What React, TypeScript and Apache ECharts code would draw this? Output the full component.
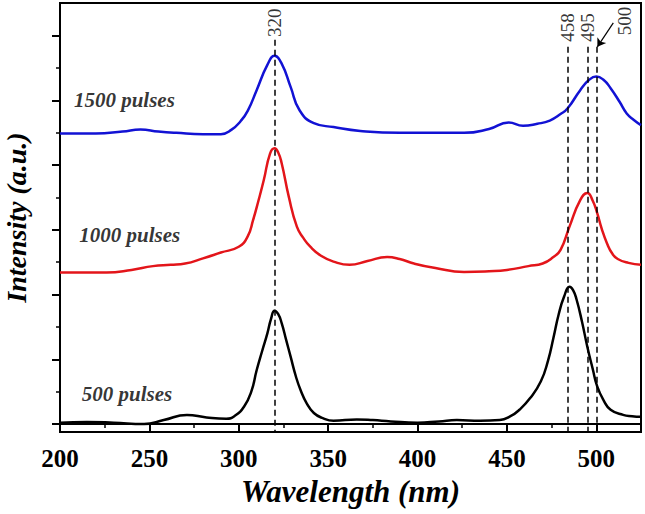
import { useEffect, useRef } from 'react';
import * as echarts from 'echarts';

// [wavelength (nm), intensity (a.u.)]
const pulses1500: [number, number][] = [
  [200, 4.49], [220, 4.49], [235, 4.52], [245, 4.55], [255, 4.52], [265, 4.5],
  [280, 4.48], [290, 4.48], [296, 4.55], [301, 4.68], [305, 4.84], [310, 5.16], [316, 5.55],
  [320, 5.69], [324, 5.57], [329, 5.21], [334, 4.85], [342, 4.65], [353, 4.59],
  [368, 4.53], [390, 4.5], [410, 4.5], [426, 4.5], [440, 4.56], [451, 4.66],
  [459, 4.61], [467, 4.64], [474, 4.69], [480, 4.79], [484, 4.88], [491, 5.16],
  [496, 5.32], [500, 5.37], [504, 5.32], [508, 5.19], [513, 4.98], [517, 4.8],
  [521, 4.7], [525, 4.62],
];

const pulses1000: [number, number][] = [
  [200, 2.34], [226, 2.34], [240, 2.38], [252, 2.44], [262, 2.46], [270, 2.48],
  [280, 2.56], [290, 2.65], [300, 2.74], [305, 2.9], [308, 3.15], [311, 3.45],
  [314, 3.77], [317.5, 4.18], [320, 4.26], [322, 4.2], [324, 4.03], [328, 3.51],
  [332.5, 3.05], [336, 2.88], [340, 2.74], [346, 2.6], [353, 2.51], [362, 2.46],
  [372, 2.52], [383, 2.58], [390, 2.55], [398, 2.48], [410, 2.41], [426, 2.35],
  [440, 2.36], [450, 2.38], [462, 2.44], [470, 2.48], [476, 2.58], [480, 2.69],
  [485, 3.05], [491, 3.46], [495, 3.57], [498, 3.45], [500.5, 3.26], [503, 3.02],
  [506, 2.79], [509, 2.63], [512, 2.55], [518, 2.49], [525, 2.46],
];

const pulses500: [number, number][] = [
  [200, 0.02], [215, 0.03], [230, 0.02], [247, 0.0], [258, 0.06], [271, 0.14],
  [282, 0.1], [293, 0.08], [298, 0.13], [303, 0.27], [307, 0.5], [310, 0.83],
  [313, 1.12], [316, 1.4], [318, 1.62], [320, 1.75], [322, 1.7], [324, 1.56],
  [326.5, 1.3], [329, 1.04], [332, 0.73], [334.5, 0.53], [338, 0.32], [342, 0.17],
  [347, 0.09], [353, 0.05], [366, 0.07], [375, 0.06], [385, 0.04], [400, 0.02],
  [412, 0.04], [422, 0.06], [435, 0.05], [446, 0.06], [452, 0.12], [457, 0.22],
  [463, 0.4], [469, 0.66], [473, 0.98], [476, 1.33], [479, 1.7], [482, 1.97],
  [485, 2.12], [487, 2.07], [489, 1.92], [492, 1.58], [495, 1.19], [498, 0.85],
  [500.5, 0.58], [504, 0.37], [508, 0.22], [515, 0.14], [520, 0.12], [525, 0.11],
];

const xMajorTicks = [200, 250, 300, 350, 400, 450, 500];
const xMinorTicks = [225, 275, 325, 375, 425, 475];
const yMajorTicks = [0, 1, 2, 3, 4, 5, 6];
const yMinorTicks = [0.5, 1.5, 2.5, 3.5, 4.5, 5.5];

// dashed guide lines: [x, top of line]
const guideLines: [number, number][] = [
  [320, 5.94], [484, 5.83], [495, 5.83], [500, 5.83],
];
// peak labels: [text, x, y]
const peakLabels: [string, number, number][] = [
  ['320', 320, 6.2], ['458', 484, 6.13], ['495', 495, 6.13], ['500', 516, 6.23],
];
const seriesLabels: [string, number, number][] = [
  ['1500 pulses', 236, 5.01], ['1000 pulses', 239, 2.92], ['500 pulses', 237.5, 0.47],
];

const SERIF = "'Liberation Serif', 'DejaVu Serif', 'Times New Roman', Times, serif";
const Y_MIN = -0.124;
const Y_MAX = 6.507;

export default function App() {
  const ref = useRef<HTMLDivElement>(null);

  useEffect(() => {
    if (!ref.current) return;
    const chart = echarts.init(ref.current, null, { renderer: 'svg' });

    const yBase = {
      type: 'value' as const,
      min: Y_MIN,
      max: Y_MAX,
      position: 'left' as const,
      offset: 0,
      splitLine: { show: false },
      axisLabel: { show: false },
    };

    const line = (name: string, data: [number, number][], color: string) => ({
      name,
      type: 'line' as const,
      data,
      showSymbol: false,
      smooth: 0.5,
      lineStyle: { color, width: 2.5 },
      silent: true,
      z: 3,
    });

    chart.setOption({
      animation: false,
      textStyle: { fontFamily: SERIF },
      grid: {
        left: 60,
        right: 4,
        top: 3,
        bottom: 82,
        show: true,
        borderColor: '#000',
        borderWidth: 2,
        outerBoundsMode: 'none',
      },
      xAxis: [
        {
          type: 'value',
          min: 200,
          max: 525,
          name: 'Wavelength (nm)',
          nameLocation: 'middle',
          nameGap: 43,
          nameTextStyle: {
            fontFamily: SERIF, fontSize: 31, fontWeight: 'bold', fontStyle: 'italic', color: '#000',
          },
          axisLine: { lineStyle: { color: '#000', width: 2 } },
          axisTick: { customValues: xMajorTicks, length: 7, lineStyle: { width: 2, color: '#000' } },
          axisLabel: {
            customValues: xMajorTicks,
            fontFamily: SERIF, fontSize: 25, fontWeight: 'bold', color: '#000', margin: 14,
          },
          splitLine: { show: false },
        },
        {
          type: 'value',
          min: 200,
          max: 525,
          position: 'bottom',
          offset: 0,
          axisLine: { show: false },
          axisTick: { customValues: xMinorTicks, length: 4, lineStyle: { width: 1.5, color: '#000' } },
          axisLabel: { show: false },
          splitLine: { show: false },
        },
      ],
      yAxis: [
        {
          ...yBase,
          name: 'Intensity (a.u.)',
          nameLocation: 'middle',
          nameGap: 30,
          nameTextStyle: {
            fontFamily: SERIF, fontSize: 28, fontWeight: 'bold', fontStyle: 'italic', color: '#000',
          },
          axisLine: { show: true, lineStyle: { color: '#000', width: 2 } },
          axisTick: { show: true, customValues: yMajorTicks, length: 8, lineStyle: { width: 2, color: '#000' } },
        },
        {
          ...yBase,
          axisLine: { show: false },
          axisTick: { show: true, customValues: yMinorTicks, length: 4, lineStyle: { width: 1.5, color: '#000' } },
        },
      ],
      series: [
        line('500 pulses', pulses500, '#000000'),
        line('1000 pulses', pulses1000, '#e3151a'),
        line('1500 pulses', pulses1500, '#1212d4'),
        {
          type: 'scatter',
          silent: true,
          symbolSize: 1,
          itemStyle: { color: 'transparent' },
          data: peakLabels.map(([t, x, y]) => ({ name: t, value: [x, y] })),
          label: {
            show: true,
            formatter: '{b}',
            position: 'inside',
            rotate: 90,
            fontFamily: SERIF,
            fontSize: 19,
            color: '#000',
          },
          markLine: {
            silent: true,
            symbol: 'none',
            label: { show: false },
            lineStyle: { color: '#000', width: 1.5, type: [6, 4] },
            data: guideLines.map(([x, top]) => [
              { coord: [x, top] },
              { coord: [x, Y_MIN] },
            ]),
          },
          z: 4,
        },
        {
          type: 'scatter',
          silent: true,
          symbolSize: 1,
          itemStyle: { color: 'transparent' },
          data: seriesLabels.map(([t, x, y]) => ({ name: t, value: [x, y] })),
          label: {
            show: true,
            formatter: '{b}',
            position: 'inside',
            fontFamily: SERIF,
            fontSize: 21,
            fontWeight: 'bold',
            fontStyle: 'italic',
            color: '#000',
          },
          markLine: {
            silent: true,
            symbol: ['none', 'arrow'],
            symbolSize: 8,
            label: { show: false },
            lineStyle: { color: '#000', width: 1.2, type: 'solid' },
            data: [[{ coord: [509.5, 6.2] }, { coord: [500.6, 5.83] }]],
          },
          z: 4,
        },
      ],
    });

    return () => chart.dispose();
  }, []);

  return (
    <div
      ref={ref}
      style={{ position: 'fixed', left: 0, top: 0, width: '645px', height: '514px', background: '#fff' }}
    />
  );
}
